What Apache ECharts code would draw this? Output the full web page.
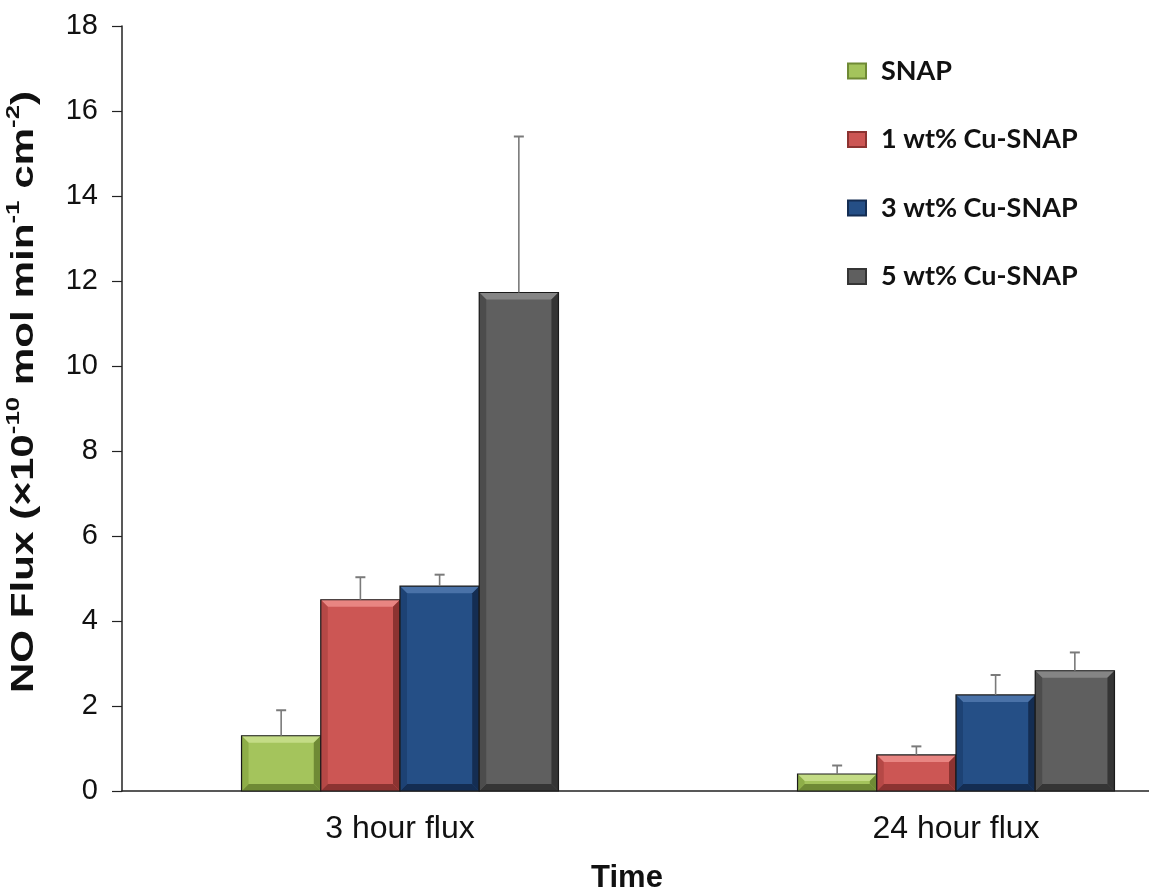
<!DOCTYPE html>
<html>
<head>
<meta charset="utf-8">
<script src="https://cdn.jsdelivr.net/npm/echarts@6/dist/echarts.min.js"></script>
<style>html,body{margin:0;padding:0;background:#fff}#c{width:1149px;height:892px}</style>
</head>
<body>
<div id="c"></div>
<script>
var categories = ['3 hour flux', '24 hour flux'];
var seriesNames = ['SNAP', '1 wt% Cu-SNAP', '3 wt% Cu-SNAP', '5 wt% Cu-SNAP'];
var snapValues = [1.3, 0.4];
var cu1Values = [4.5, 0.85];
var cu3Values = [4.82, 2.26];
var cu5Values = [11.73, 2.83];
var snapErr = [0.6, 0.2];
var cu1Err = [0.53, 0.2];
var cu3Err = [0.27, 0.47];
var cu5Err = [3.67, 0.43];
var yTicks = [0, 2, 4, 6, 8, 10, 12, 14, 16, 18];

var values = [snapValues, cu1Values, cu3Values, cu5Values];
var errs = [snapErr, cu1Err, cu3Err, cu5Err];
var palette = [
  {main: '#A4C45C', light: '#C4DC86', dark: '#6F8A35', side: '#8EAE48'},
  {main: '#CC5654', light: '#E88582', dark: '#8C3331', side: '#B54846'},
  {main: '#254F86', light: '#4A72A8', dark: '#142D52', side: '#1D4274'},
  {main: '#5F5F5F', light: '#858585', dark: '#353535', side: '#4C4C4C'}
];
var GAP = 0.43;

function makeRender(si) {
  return function (params, api) {
    var ci = api.value(0);
    var v = api.value(1);
    var e = api.value(2);
    var base = api.coord([ci, 0]);
    var top = api.coord([ci, v]);
    var errTop = api.coord([ci, v + e]);
    var catW = api.size([1, 0])[0];
    var bw = catW * (1 - GAP) / 4;
    var cx = base[0] + (si - 1.5) * bw;
    var x0 = cx - bw / 2, x1 = cx + bw / 2;
    var y0 = top[1], y1 = base[1];
    var h = y1 - y0;
    var b = Math.min(7, h / 2.2);
    var c = palette[si];
    var ch = [
      {type: 'rect', shape: {x: x0, y: y0, width: bw, height: h}, style: {fill: c.main}},
      {type: 'polygon', shape: {points: [[x0, y0], [x1, y0], [x1 - b, y0 + b], [x0 + b, y0 + b]]}, style: {fill: c.light}},
      {type: 'polygon', shape: {points: [[x0, y1], [x1, y1], [x1 - b, y1 - b], [x0 + b, y1 - b]]}, style: {fill: c.dark}},
      {type: 'polygon', shape: {points: [[x0, y0], [x0 + b, y0 + b], [x0 + b, y1 - b], [x0, y1]]}, style: {fill: c.side}},
      {type: 'polygon', shape: {points: [[x1, y0], [x1 - b, y0 + b], [x1 - b, y1 - b], [x1, y1]]}, style: {fill: c.dark}},
      {type: 'rect', shape: {x: x0, y: y0, width: bw, height: h}, style: {fill: 'none', stroke: '#1a1a1a', lineWidth: 1.2}},
      {type: 'line', shape: {x1: cx, y1: y0, x2: cx, y2: errTop[1]}, style: {stroke: '#7a7a7a', lineWidth: 1.6}},
      {type: 'line', shape: {x1: cx - 5, y1: errTop[1], x2: cx + 5, y2: errTop[1]}, style: {stroke: '#7a7a7a', lineWidth: 2}}
    ];
    return {type: 'group', children: ch};
  };
}

var series = seriesNames.map(function (name, si) {
  return {
    name: name,
    type: 'custom',
    renderItem: makeRender(si),
    itemStyle: {color: palette[si].main, borderColor: palette[si].dark, borderWidth: 1},
    encode: {x: 0, y: 1},
    data: categories.map(function (cat, ci) { return [ci, values[si][ci], errs[si][ci]]; }),
    z: 2
  };
});

var chart = echarts.init(document.getElementById('c'));
chart.setOption({
  animation: false,
  backgroundColor: '#fff',
  grid: {left: 122, top: 26, width: 1112, height: 765, containLabel: false, outerBoundsMode: 'none'},
  legend: {
    orient: 'vertical',
    left: 842,
    top: 51,
    itemWidth: 18,
    itemHeight: 15,
    itemGap: 38.5,
    icon: 'rect',
    data: seriesNames,
    textStyle: {fontFamily: 'Lato', fontWeight: 'bold', fontSize: 27, lineHeight: 30, color: '#111', padding: [0, 0, 0, 10]}
  },
  xAxis: {
    type: 'category',
    data: categories,
    axisLine: {lineStyle: {color: '#222', width: 1.5}},
    axisTick: {show: false},
    axisLabel: {fontFamily: 'Liberation Sans', fontSize: 32, color: '#111', margin: 22}
  },
  yAxis: {
    type: 'value',
    min: 0,
    max: 18,
    interval: 2,
    splitLine: {show: false},
    axisLine: {show: true, lineStyle: {color: '#222', width: 1.5}},
    axisTick: {show: true, length: 10, inside: false, lineStyle: {color: '#222', width: 1.2}},
    axisLabel: {fontFamily: 'Liberation Sans', fontSize: 29, color: '#111', margin: 24,
      formatter: function (v) { return yTicks.indexOf(v) >= 0 ? String(v) : ''; }}
  },
  graphic: [
    {
      type: 'text',
      x: 22, y: 392,
      rotation: Math.PI / 2,
      scaleX: 1.36,
      style: {
        text: '{m|NO Flux (×10}{s|-10}{m| mol min}{s|-1}{m| cm}{s|-2}{m|)}',
        rich: {
          m: {fontFamily: 'Liberation Sans', fontWeight: 'bold', fontSize: 31, fill: '#111', lineHeight: 36, verticalAlign: 'bottom'},
          s: {fontFamily: 'Liberation Sans', fontWeight: 'bold', fontSize: 19, fill: '#111', lineHeight: 36, verticalAlign: 'top'}
        },
        align: 'center',
        verticalAlign: 'middle'
      }
    },
    {
      type: 'text',
      x: 627, y: 878,
      style: {text: 'Time', fontFamily: 'Liberation Sans', fontWeight: 'bold', fontSize: 31, fill: '#111', align: 'center', verticalAlign: 'middle'}
    }
  ],
  series: series
});
</script>
</body>
</html>
